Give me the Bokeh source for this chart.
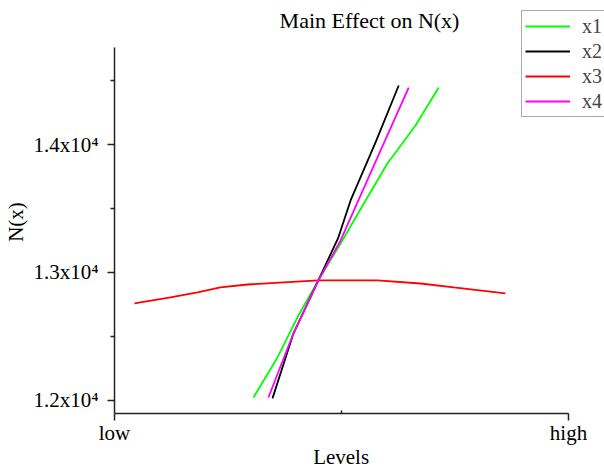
from bokeh.plotting import figure
from bokeh.models import FixedTicker, Range1d, Legend, LegendItem, Label
from bokeh.embed import file_html
from bokeh.resources import INLINE

# Data (level coordinate 0 = low, 1 = high)
x1_lv = [0.306, 0.359, 0.405, 0.449, 0.498, 0.557, 0.601, 0.663, 0.714]
x1_n = [12023, 12336, 12664, 12938, 13227, 13586, 13852, 14148, 14445]

x2_lv = [0.348, 0.394, 0.449, 0.493, 0.520, 0.575, 0.626]
x2_n = [12016, 12523, 12938, 13273, 13563, 14016, 14461]

x3_lv = [0.044, 0.123, 0.183, 0.233, 0.293, 0.449, 0.579, 0.674, 0.747, 0.861]
x3_n = [12758, 12805, 12844, 12883, 12906, 12938, 12938, 12914, 12883, 12836]

x4_lv = [0.339, 0.394, 0.449, 0.498, 0.579, 0.648]
x4_n = [12023, 12523, 12938, 13250, 13898, 14445]

series_names = ["x1", "x2", "x3", "x4"]
series_colors = ["#00ff00", "#000000", "#ff0000", "#ff00ff"]

y_major = [12000, 13000, 14000]
y_minor = [12500, 13500, 14500]
y_labels = {12000: "1.2x10\u2074", 13000: "1.3x10\u2074", 14000: "1.4x10\u2074"}
x_major = [0, 1]
x_minor = [0.5]
x_labels = {0: "low", 1: "high"}
title_text = "Main Effect on N(x)"
x_title = "Levels"
y_title = "N(x)"

FONT = "Liberation Serif"
NBSP = "\u00a0"

# axis extents (drawn lines) vs. full frame ranges (frame also holds title & legend)
x_axis_bounds = (0, 1)
y_axis_bounds = (11898, 14758)

p = figure(width=604, height=472, output_backend="svg", toolbar_location=None,
           x_range=Range1d(0, 1.0793), y_range=Range1d(11898, 15055),
           min_border_left=114, min_border_right=0, min_border_top=9,
           min_border_bottom=59, outline_line_color=None)

p.xgrid.visible = False
p.ygrid.visible = False

xs = [x1_lv, x2_lv, x3_lv, x4_lv]
ys = [x1_n, x2_n, x3_n, x4_n]
items = []
for name, col, xv, yv in zip(series_names, series_colors, xs, ys):
    r = p.line(xv, yv, line_color=col, line_width=1.8)
    items.append(LegendItem(label=name, renderers=[r]))

legend = Legend(items=items, location=(407, 296), orientation="vertical",
                label_text_font=FONT, label_text_font_size="20px",
                glyph_width=45, glyph_height=24, label_height=24,
                label_standoff=12, spacing=1, padding=3, margin=0,
                border_line_color="#555555", border_line_width=1.5,
                background_fill_color="white", background_fill_alpha=1.0)
p.add_layout(legend, "center")

title = Label(x=0.5617, y=14969, text=title_text, text_font=FONT,
              text_font_size="22px", text_align="center",
              text_baseline="middle", text_color="#000000")
p.add_layout(title)

# Y axis
p.yaxis.bounds = y_axis_bounds
p.yaxis.ticker = FixedTicker(ticks=y_major, minor_ticks=y_minor)
p.yaxis.major_label_overrides = y_labels
p.yaxis.axis_label = y_title + NBSP * 4
p.yaxis.axis_label_text_font = FONT
p.yaxis.axis_label_text_font_size = "21px"
p.yaxis.axis_label_text_font_style = "normal"
p.yaxis.major_label_text_font = FONT
p.yaxis.major_label_text_font_size = "21px"
p.yaxis.major_tick_out = 7
p.yaxis.major_tick_in = 0
p.yaxis.minor_tick_out = 4
p.yaxis.minor_tick_in = 0
p.yaxis.major_label_standoff = 9
p.yaxis.axis_label_standoff = 2

# X axis
p.xaxis.bounds = x_axis_bounds
p.xaxis.ticker = FixedTicker(ticks=x_major, minor_ticks=x_minor)
p.xaxis.major_label_overrides = x_labels
p.xaxis.axis_label = x_title + NBSP * 7
p.xaxis.axis_label_text_font = FONT
p.xaxis.axis_label_text_font_size = "21px"
p.xaxis.axis_label_text_font_style = "normal"
p.xaxis.major_label_text_font = FONT
p.xaxis.major_label_text_font_size = "21px"
p.xaxis.major_tick_out = 7
p.xaxis.major_tick_in = 0
p.xaxis.minor_tick_out = 0
p.xaxis.minor_tick_in = 3
p.xaxis.major_label_standoff = 0
p.xaxis.axis_label_standoff = -3

for ax in (p.xaxis[0], p.yaxis[0]):
    ax.axis_line_color = "#222222"
    ax.axis_line_width = 1.5
    ax.major_tick_line_color = "#222222"
    ax.major_tick_line_width = 1.5
    ax.minor_tick_line_color = "#222222"
    ax.minor_tick_line_width = 1.5
    ax.major_label_text_color = "#000000"
    ax.axis_label_text_color = "#000000"

open("out.html", "w").write(file_html(p, INLINE))
